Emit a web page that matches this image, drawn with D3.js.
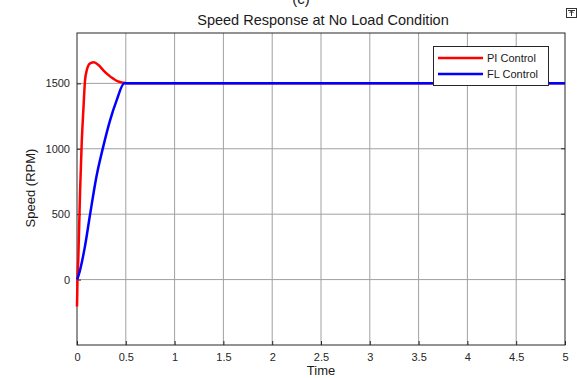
<!DOCTYPE html>
<html>
<head>
<meta charset="utf-8">
<script src="https://cdn.jsdelivr.net/npm/d3@7"></script>
<style>
  body { margin: 0; background: #fff; }
  svg { display: block; font-family: "Liberation Sans", Arial, sans-serif; }
</style>
</head>
<body>
<svg id="chart" width="577" height="378"></svg>
<script>
// time ticks and speed ticks
const xTicks = [0, 0.5, 1, 1.5, 2, 2.5, 3, 3.5, 4, 4.5, 5];
const xTickLabels = ["0", "0.5", "1", "1.5", "2", "2.5", "3", "3.5", "4", "4.5", "5"];
const yTicks = [0, 500, 1000, 1500];

// PI control speed
const piTime  = [0, 0.005, 0.013, 0.031, 0.048, 0.065, 0.082, 0.1, 0.116, 0.14, 0.174, 0.22, 0.27, 0.32, 0.372, 0.42, 0.474, 0.55, 5];
const piSpeed = [-205, 0, 150, 660, 1040, 1295, 1520, 1600, 1637, 1655, 1662, 1640, 1600, 1565, 1536, 1515, 1505, 1500, 1500];

// FL control speed
const flTime  = [0, 0.013, 0.082, 0.133, 0.2, 0.27, 0.338, 0.406, 0.485, 5];
const flSpeed = [0, 25, 256, 494, 790, 1020, 1215, 1370, 1500, 1500];

const series = [
  { name: "PI Control", color: "#ff0000", t: piTime, v: piSpeed },
  { name: "FL Control", color: "#0000ff", t: flTime, v: flSpeed }
];

const svg = d3.select("#chart");
const pLeft = 77, pRight = 565, pTop = 33, pBottom = 345;

const x = d3.scaleLinear().domain([0, 5]).range([pLeft, pRight]);
const y = d3.scaleLinear().domain([-500, 1885]).range([pBottom, pTop]);

// cut-off panel label above the title
svg.append("text")
  .attr("x", 301).attr("y", 4)
  .attr("text-anchor", "middle")
  .attr("font-size", 15)
  .attr("fill", "#222")
  .text("(c)");

// little figure icon in the corner
svg.append("rect")
  .attr("x", 566.5).attr("y", 8.5).attr("width", 10).attr("height", 9)
  .attr("fill", "#fff").attr("stroke", "#333");
svg.append("path")
  .attr("d", "M568,10.5 H575 M571.5,11 V16 M569.5,13 L571.5,11 L573.5,13")
  .attr("fill", "none").attr("stroke", "#333").attr("stroke-width", 1);

// grid
svg.append("g")
  .selectAll("line")
  .data(xTicks.slice(1, -1))
  .join("line")
  .attr("x1", d => x(d)).attr("x2", d => x(d))
  .attr("y1", pTop).attr("y2", pBottom)
  .attr("stroke", "#a0a0a0").attr("stroke-width", 1);

svg.append("g")
  .selectAll("line")
  .data(yTicks)
  .join("line")
  .attr("x1", pLeft).attr("x2", pRight)
  .attr("y1", d => y(d)).attr("y2", d => y(d))
  .attr("stroke", "#a0a0a0").attr("stroke-width", 1);

// axes
const xAxis = svg.append("g")
  .attr("transform", `translate(0,${pBottom})`)
  .call(d3.axisBottom(x).tickValues(xTicks).tickFormat((d, i) => xTickLabels[i]).tickSize(-4).tickPadding(8));

const yAxis = svg.append("g")
  .attr("transform", `translate(${pLeft},0)`)
  .call(d3.axisLeft(y).tickValues(yTicks).tickFormat(d3.format("d")).tickSize(-4).tickPadding(7));

[xAxis, yAxis].forEach(a => {
  a.select(".domain").remove();
  a.selectAll("line").attr("stroke", "#262626");
  a.selectAll("text").attr("font-size", 11).attr("fill", "#262626").attr("font-family", "Liberation Sans, Arial, sans-serif");
});

// right side ticks too
svg.append("g")
  .selectAll("line")
  .data(yTicks)
  .join("line")
  .attr("x1", pRight - 4).attr("x2", pRight)
  .attr("y1", d => y(d)).attr("y2", d => y(d))
  .attr("stroke", "#262626");

// frame
svg.append("rect")
  .attr("x", pLeft).attr("y", pTop)
  .attr("width", pRight - pLeft).attr("height", pBottom - pTop)
  .attr("fill", "none").attr("stroke", "#262626").attr("stroke-width", 1);

// lines
const line = d3.line()
  .x(d => x(d[0]))
  .y(d => y(d[1]))
  .curve(d3.curveMonotoneX);

series.forEach(s => {
  svg.append("path")
    .datum(s.t.map((t, i) => [t, s.v[i]]))
    .attr("fill", "none")
    .attr("stroke", s.color)
    .attr("stroke-width", 2.5)
    .attr("d", line);
});

// title and labels
svg.append("text")
  .attr("x", 323).attr("y", 25)
  .attr("text-anchor", "middle")
  .attr("font-size", 14.5)
  .attr("fill", "#1a1a1a")
  .text("Speed Response at No Load Condition");

svg.append("text")
  .attr("x", 321).attr("y", 375)
  .attr("text-anchor", "middle")
  .attr("font-size", 13)
  .attr("fill", "#1a1a1a")
  .text("Time");

svg.append("text")
  .attr("transform", "translate(35,188) rotate(-90)")
  .attr("text-anchor", "middle")
  .attr("font-size", 13)
  .attr("fill", "#1a1a1a")
  .text("Speed (RPM)");

// legend
const legend = svg.append("g").attr("transform", "translate(433,46)");
legend.append("rect")
  .attr("x", 0.5).attr("y", 0.5).attr("width", 115).attr("height", 39)
  .attr("fill", "#fff").attr("stroke", "#262626");

series.forEach((s, i) => {
  const ly = 12 + i * 16;
  legend.append("line")
    .attr("x1", 5).attr("x2", 50)
    .attr("y1", ly).attr("y2", ly)
    .attr("stroke", s.color).attr("stroke-width", 2.5);
  legend.append("text")
    .attr("x", 54).attr("y", ly + 4)
    .attr("font-size", 11)
    .attr("fill", "#1a1a1a")
    .text(s.name);
});
</script>
</body>
</html>
